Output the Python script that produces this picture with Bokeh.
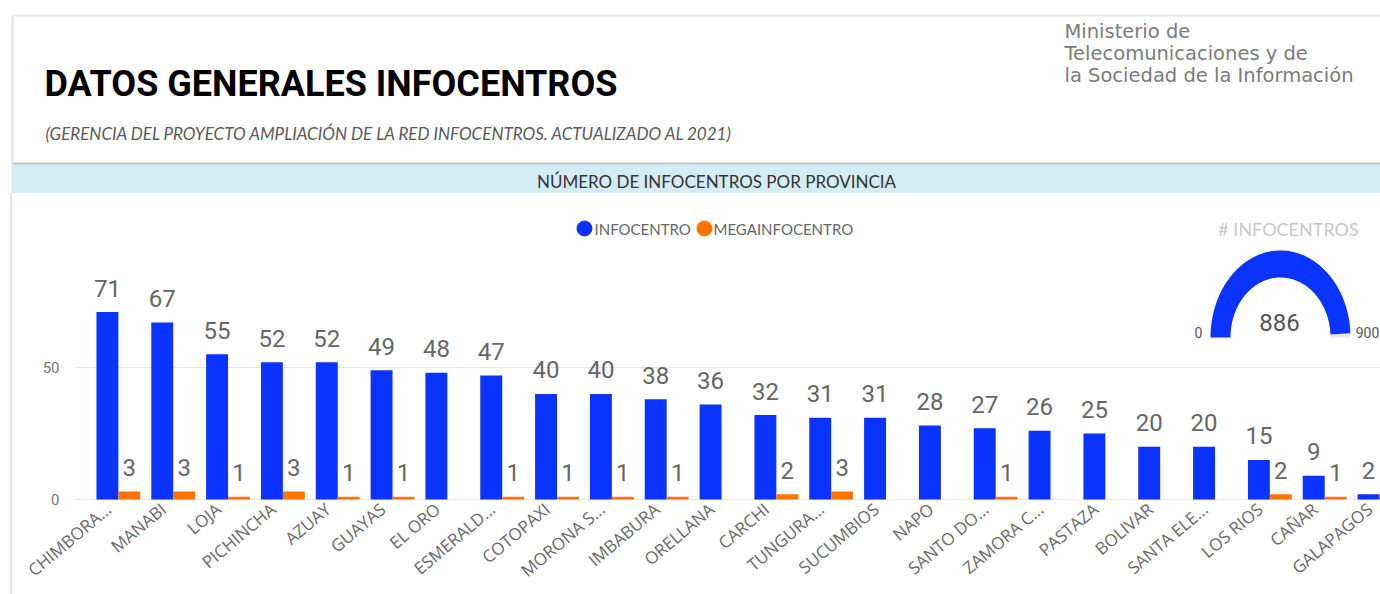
import numpy as np
from bokeh.plotting import figure
from bokeh.models import ColumnDataSource, Range1d, FixedTicker, Div
from bokeh.layouts import column, row
from bokeh.transform import dodge
from bokeh.core.properties import value
from bokeh.embed import file_html
from bokeh.resources import INLINE

# ---------------- data ----------------
provinces = ["CHIMBORA...", "MANABI", "LOJA", "PICHINCHA", "AZUAY", "GUAYAS", "EL ORO",
             "ESMERALD...", "COTOPAXI", "MORONA S...", "IMBABURA", "ORELLANA", "CARCHI",
             "TUNGURA...", "SUCUMBIOS", "NAPO", "SANTO DO...", "ZAMORA C...", "PASTAZA",
             "BOLIVAR", "SANTA ELE...", "LOS RIOS", "CAÑAR", "GALAPAGOS"]
infocentro = [71, 67, 55, 52, 52, 49, 48, 47, 40, 40, 38, 36, 32, 31, 31, 28, 27, 26, 25,
              20, 20, 15, 9, 2]
megainfocentro = [3, 3, 1, 3, 1, 1, 0, 1, 1, 1, 1, 0, 2, 3, 0, 0, 1, 0, 0, 0, 0, 2, 1, 0]
y_ticks = [0, 50]
series_names = ["INFOCENTRO", "MEGAINFOCENTRO"]
gauge_min = 0
gauge_max = 900

title_text = "DATOS GENERALES INFOCENTROS"
subtitle_text = "(GERENCIA DEL PROYECTO AMPLIACIÓN DE LA RED INFOCENTROS. ACTUALIZADO AL 2021)"
logo_lines = ["Ministerio de", "Telecomunicaciones y de", "la Sociedad de la Información"]
band_text = "NÚMERO DE INFOCENTROS POR PROVINCIA"
gauge_title = "# INFOCENTROS"

BLUE = "#0A33FF"
ORANGE = "#FF7300"
NUM = value("Roboto")
LATO = value("Lato")

# ---------------- header ----------------
hdr = figure(width=1380, height=193, x_range=Range1d(0, 1380), y_range=Range1d(193, 0),
             toolbar_location=None, output_backend="svg", x_axis_type=None, y_axis_type=None,
             min_border=0, outline_line_color=None)
hdr.grid.visible = False
hdr.segment(x0=[12, 12], y0=[15, 15], x1=[1380, 12], y1=[15, 193], line_color="#dce5f0", line_width=2)
hdr.quad(left=[12], right=[1380], top=[163], bottom=[193], fill_color="#d3ecf6", line_color=None)
hdr.segment(x0=[12], y0=[163], x1=[1380], y1=[163], line_color="#c4c4c4", line_width=2)
hdr.text(x=[44], y=[83], text=[title_text], text_font=NUM, text_font_style="bold",
         text_font_size="36px", text_color="#000000", text_baseline="middle")
hdr.text(x=[45], y=[133], text=[subtitle_text], text_font=LATO, text_font_style="italic",
         text_font_size="17px", text_color="#5a5a5a", text_baseline="middle")
hdr.text(x=[1064] * 3, y=[31, 53, 75], text=logo_lines, text_font=value("DejaVu Sans"),
         text_font_size="19.5px", text_color="#7b7b7b", text_baseline="middle")
hdr.text(x=[716], y=[181], text=[band_text], text_font=LATO,
         text_font_size="17px", text_color="#333333", text_align="center", text_baseline="middle")

# ---------------- chart ----------------
n = len(provinces)
idx = list(range(n))
src = ColumnDataSource(dict(x=idx, info=infocentro, mega=megainfocentro,
                            info_lbl=[str(v) for v in infocentro]))
mx = [i for i, v in zip(idx, megainfocentro) if v > 0]
mv = [v for v in megainfocentro if v > 0]
msrc = ColumnDataSource(dict(x=mx, v=mv, lbl=[str(v) for v in mv]))

p = figure(width=1368, height=401, x_range=Range1d(-0.782, 23.018), y_range=Range1d(-0.379, 115.9),
           toolbar_location=None, output_backend="svg", min_border_left=63, min_border_right=0,
           min_border_top=0, min_border_bottom=94, outline_line_color=None)
p.extra_x_ranges = {"px": Range1d(75, 1380)}
p.extra_y_ranges = {"px": Range1d(500, 193)}

p.vbar(x=dodge("x", -0.2), top="info", width=0.4, source=src, fill_color=BLUE, line_color=None)
p.vbar(x=dodge("x", 0.2), top="mega", width=0.4, source=src, fill_color=ORANGE, line_color=None)
p.text(x=dodge("x", -0.2), y="info", text="info_lbl", source=src, y_offset=-24, text_font=NUM,
       text_font_size="24px", text_color="#666666", text_align="center", text_baseline="middle")
p.text(x=dodge("x", 0.2), y="v", text="lbl", source=msrc, y_offset=-24, text_font=NUM,
       text_font_size="24px", text_color="#666666", text_align="center", text_baseline="middle")

p.xgrid.visible = False
p.ygrid.ticker = FixedTicker(ticks=y_ticks)
p.ygrid.grid_line_color = "#e6e6e6"
p.yaxis.ticker = FixedTicker(ticks=y_ticks)
p.yaxis.axis_line_color = None
p.yaxis.major_tick_line_color = None
p.yaxis.minor_tick_line_color = None
p.yaxis.major_tick_out = 0
p.yaxis.major_label_standoff = 16
p.yaxis.major_label_text_font = "Roboto"
p.yaxis.major_label_text_font_size = "15px"
p.yaxis.major_label_text_color = "#777777"

tick_pos = [i - 0.18 for i in idx]
p.xaxis.ticker = FixedTicker(ticks=tick_pos)
p.xaxis.major_label_overrides = {t: name for t, name in zip(tick_pos, provinces)}
p.xaxis.major_label_orientation = 0.7
p.xaxis.axis_line_color = None
p.xaxis.major_tick_line_color = None
p.xaxis.minor_tick_line_color = None
p.xaxis.major_tick_out = 0
p.xaxis.major_label_standoff = 6
p.xaxis.major_label_text_font = "Open Sans"
p.xaxis.major_label_text_font_size = "17px"
p.xaxis.major_label_text_color = "#6a6a6a"

# legend
p.scatter(x=[584, 704], y=[228, 228], size=15, color=[BLUE, ORANGE], x_range_name="px", y_range_name="px")
p.text(x=[594, 713], y=[228, 228], text=series_names, text_font=LATO, text_font_size="15px",
       text_color="#666666", text_baseline="middle", x_range_name="px", y_range_name="px")

# gauge
total = sum(infocentro) + sum(megainfocentro)
frac = (total - gauge_min) / (gauge_max - gauge_min)
cx, cy, rxo, ryo, rxi, ryi = 1280, 337, 70, 87, 50, 60


def ring(th):
    xs = np.concatenate([cx + rxo * np.cos(th), cx + rxi * np.cos(th[::-1])])
    ys = np.concatenate([cy - ryo * np.sin(th), cy - ryi * np.sin(th[::-1])])
    return xs, ys


th_fill = np.linspace(np.pi, np.pi * (1 - frac), 120)
th_rest = np.linspace(np.pi * (1 - frac), 0, 10)
xs, ys = ring(th_rest)
p.patch(xs, ys, fill_color="#e9e9e9", line_color=None, x_range_name="px", y_range_name="px")
xs, ys = ring(th_fill)
p.patch(xs, ys, fill_color=BLUE, line_color=None, x_range_name="px", y_range_name="px")
p.text(x=[1288], y=[228], text=[gauge_title], text_font=LATO, text_font_size="18px",
       text_color="#c8c8c8", text_align="center", text_baseline="middle",
       x_range_name="px", y_range_name="px")
p.text(x=[1279], y=[322], text=[str(total)], text_font=NUM, text_font_size="24px",
       text_color="#555555", text_align="center", text_baseline="middle",
       x_range_name="px", y_range_name="px")
p.text(x=[1198, 1367], y=[332, 332], text=[str(gauge_min), str(gauge_max)], text_font=NUM,
       text_font_size="14px", text_color="#555555", text_align="center", text_baseline="middle",
       x_range_name="px", y_range_name="px")

left_div = Div(text="", width=12, height=401, margin=(0, 0, 0, 0),
               styles={"border-right": "2px solid #dce5f0", "box-sizing": "border-box"})

lay = column(hdr, row(left_div, p, spacing=0), spacing=0)

open("out.html", "w").write(file_html(lay, INLINE))
